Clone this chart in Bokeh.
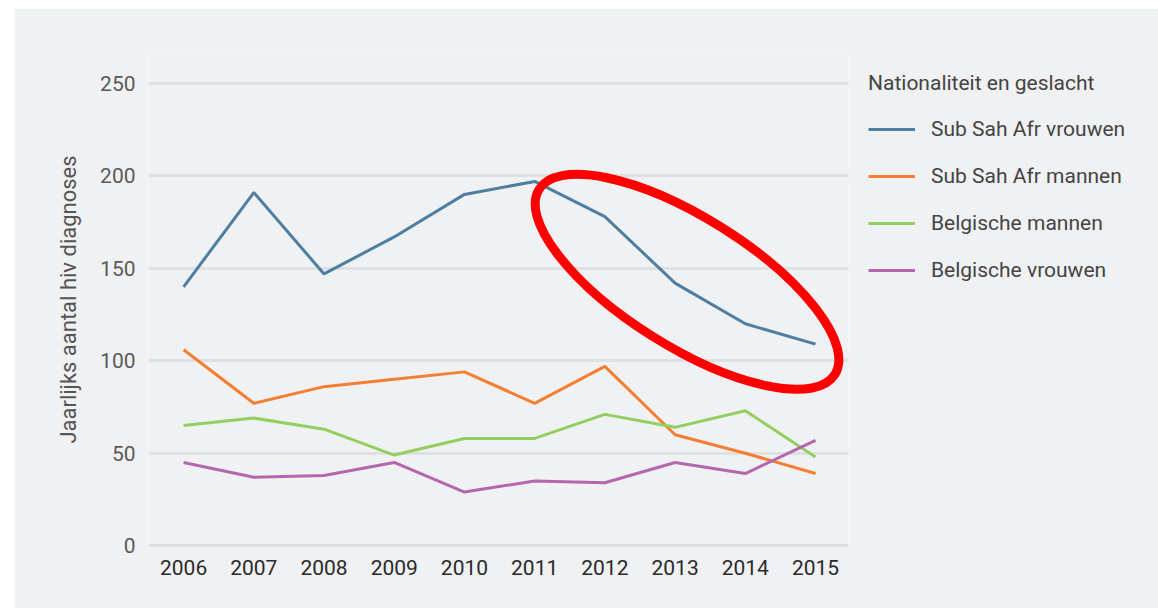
from bokeh.plotting import figure
from bokeh.models import Range1d, FixedTicker, Legend, LegendItem, Spacer
from bokeh.layouts import row, column
from bokeh.embed import file_html
from bokeh.resources import INLINE

years = [2006, 2007, 2008, 2009, 2010, 2011, 2012, 2013, 2014, 2015]
ssa_women = [140, 191, 147, 167, 190, 197, 178, 142, 120, 109]
ssa_men = [106, 77, 86, 90, 94, 77, 97, 60, 50, 39]
bel_men = [65, 69, 63, 49, 58, 58, 71, 64, 73, 48]
bel_women = [45, 37, 38, 45, 29, 35, 34, 45, 39, 57]
series_names = ["Sub Sah Afr vrouwen", "Sub Sah Afr mannen", "Belgische mannen", "Belgische vrouwen"]
series_colors = ["#4f7fa0", "#f47f32", "#93cf60", "#b567ae"]
y_ticks = [0, 50, 100, 150, 200, 250]
y_label = "Jaarlijks aantal hiv diagnoses"
legend_title = "Nationaliteit en geslacht"

# highlight annotation (red ellipse around the 2011-2015 decline)
hl_x, hl_y = 2013.17, 142.7

FONT = "Roboto"
BG = "#f0f1f3"

p = figure(frame_width=700, frame_height=496, output_backend="svg", toolbar_location=None,
           x_range=Range1d(2005.5, 2015.47), y_range=Range1d(-1, 267.3),
           min_border_left=134, min_border_right=0, min_border_top=43, min_border_bottom=61,
           background_fill_color=BG, border_fill_color=BG)
p.outline_line_color = None
p.xgrid.grid_line_color = None
p.ygrid.grid_line_color = "#dfe0e2"
p.ygrid.grid_line_width = 3
p.ygrid.ticker = FixedTicker(ticks=y_ticks)

p.yaxis.ticker = FixedTicker(ticks=y_ticks)
p.xaxis.ticker = FixedTicker(ticks=years)
for ax in (p.xaxis, p.yaxis):
    ax.axis_line_color = None
    ax.major_tick_line_color = None
    ax.minor_tick_line_color = None
    ax.major_label_text_font = FONT
    ax.major_label_text_font_size = "21px"
p.yaxis.major_label_text_color = "#5a5a5a"
p.xaxis.major_label_text_color = "#2a2a2a"
p.yaxis.major_label_standoff = 7
p.xaxis.major_label_standoff = 6
p.yaxis.axis_label = y_label
p.yaxis.axis_label_text_font = FONT
p.yaxis.axis_label_text_font_size = "22px"
p.yaxis.axis_label_text_font_style = "normal"
p.yaxis.axis_label_text_color = "#555555"
p.yaxis.axis_label_standoff = 16

renderers = []
for vals, col in zip([ssa_women, ssa_men, bel_men, bel_women], series_colors):
    r = p.line(years, vals, line_color=col, line_width=3)
    renderers.append(r)

p.ellipse(x=[hl_x], y=[hl_y], width=349, height=129, angle=-0.559,
          width_units="screen", height_units="screen",
          fill_alpha=0, line_color="#ff0000", line_width=9)

legend = Legend(items=[LegendItem(label=n, renderers=[r]) for n, r in zip(series_names, renderers)],
                title=legend_title, location="top_left", margin=10,
                border_line_alpha=0, background_fill_alpha=0,
                glyph_width=47, glyph_height=26, label_height=26, spacing=21,
                padding=10, label_standoff=16, title_standoff=21,
                label_text_font=FONT, label_text_font_size="21px", label_text_color="#444444",
                title_text_font=FONT, title_text_font_size="21px", title_text_font_style="normal",
                title_text_color="#444444")
p.add_layout(legend, "right")

layout = row(Spacer(width=14, height=608), column(Spacer(width=10, height=8), p))
open("out.html", "w").write(file_html(layout, INLINE))
